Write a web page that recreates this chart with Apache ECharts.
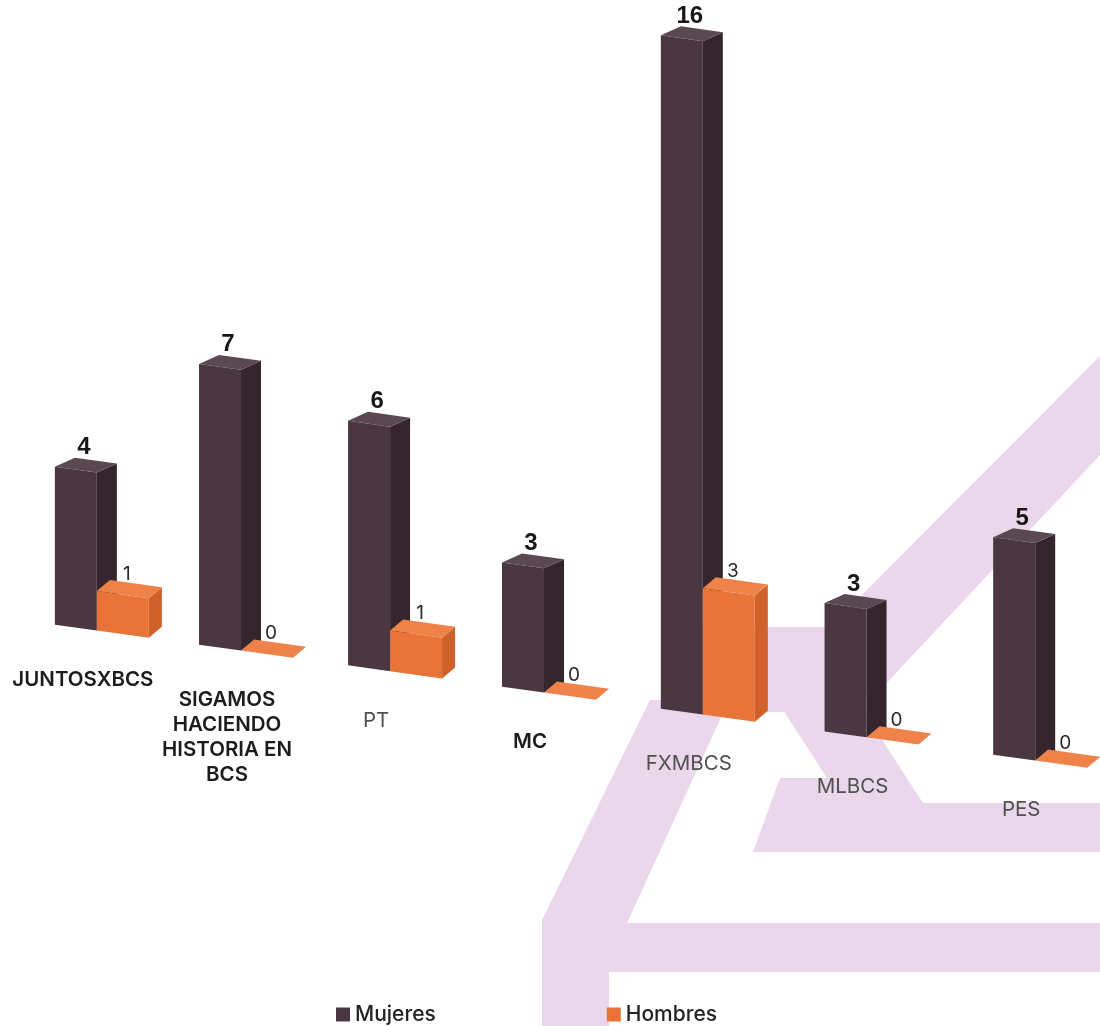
<!DOCTYPE html>
<html>
<head>
<meta charset="utf-8">
<script src="https://cdn.jsdelivr.net/npm/echarts/dist/echarts.min.js"></script>
<style>
html,body{margin:0;padding:0;background:#ffffff;}
#chart{width:1100px;height:1026px;}
</style>
</head>
<body>
<div id="chart"></div>
<script>
// ---- data ----
const categories = ['JUNTOSXBCS', 'SIGAMOS\nHACIENDO\nHISTORIA EN\nBCS', 'PT', 'MC', 'FXMBCS', 'MLBCS', 'PES'];
const mujeres = [4, 7, 6, 3, 16, 3, 5];
const hombres = [1, 0, 1, 0, 3, 0, 0];
const seriesNames = ['Mujeres', 'Hombres'];

// ---- styling (perspective look of the original 3D chart) ----
const SLOPE = 0.1386;     // floor tilt
const TILT_X0 = 28;
const PX0 = 106;          // first group centre (perspective origin)
const SPREAD = 1.218e-4;  // horizontal perspective spread
const UNIT = 41;          // axis px per unit (yAxis below)
const strongLabel = [true, true, false, true, false, false, false];
const PAL = {
  m: {front: '#4a3742', side: '#35262e', top: '#5c4853'},
  h: {front: '#e8743a', side: '#d0612b', top: '#ee8248'}
};
const BG = '#ead7eb';

function tilt(x, y) { return [x, y + SLOPE * (x - TILT_X0)]; }
function spread(c) { const d = c - PX0; return PX0 + d * (1 + SPREAD * d); }

function makeBox(kind) {
  return function (params, api) {
    const i = api.value(0), v = api.value(1);
    const base = api.coord([i, 0]);
    const topA = api.coord([i, v]);
    const c = spread(base[0]);
    const k = (39.5 + 4 * (c - PX0) / 938) / UNIT;   // heights grow toward the back-right
    const yTop = base[1] - (base[1] - topA[1]) * k;
    let x0, x1, d, pal;
    if (kind === 0) { x0 = c - 51; x1 = c - 9; d = [20, -9]; pal = PAL.m; }
    else { x0 = c - 9; x1 = c + 43; d = [13, -11]; pal = PAL.h; }
    const fbl = tilt(x0, base[1]), fbr = tilt(x1, base[1]);
    const ftl = tilt(x0, yTop), ftr = tilt(x1, yTop);
    const add = (p) => [p[0] + d[0], p[1] + d[1]];
    const btl = add(ftl), btr = add(ftr), bbr = add(fbr);
    const children = [
      {type: 'polygon', shape: {points: [fbr, ftr, btr, bbr]}, style: {fill: pal.side}},
      {type: 'polygon', shape: {points: [ftl, ftr, btr, btl]}, style: {fill: pal.top}},
      {type: 'polygon', shape: {points: [fbl, fbr, ftr, ftl]}, style: {fill: pal.front}}
    ];
    const cx = (x0 + x1) / 2;
    if (kind === 0) {
      children.push({type: 'text', z2: 10, style: {
        text: String(v), x: cx + 8, y: tilt(cx, yTop)[1] - 10,
        align: 'center', verticalAlign: 'bottom',
        fontFamily: 'Liberation Sans', fontWeight: 'bold', fontSize: 24, fill: '#1b1719'
      }});
      const lx = c - 23;
      const ly = tilt(lx, base[1])[1] + 39;
      const strong = strongLabel[i];
      children.push({type: 'text', z2: 10, style: {
        text: categories[i], x: lx, y: ly, align: 'center', verticalAlign: 'top',
        lineHeight: 25, fontFamily: 'Inter', fontSize: 20.5,
        fontWeight: strong ? 600 : 400, fill: strong ? '#1c1c1c' : '#505050'
      }});
    } else {
      children.push({type: 'text', z2: 10, style: {
        text: String(v), x: cx + 4, y: tilt(cx, yTop)[1] - 11,
        align: 'center', verticalAlign: 'bottom',
        fontFamily: 'Inter', fontSize: 19, fill: '#2a2a2a'
      }});
    }
    return {type: 'group', children: children};
  };
}

const chart = echarts.init(document.getElementById('chart'));
chart.setOption({
  backgroundColor: '#ffffff',
  animation: false,
  graphic: [
    {type: 'polygon', z: -10, silent: true, shape: {points: [[668,627],[830,627],[1100,356],[1100,455],[880,690],[790,712],[668,712]]}, style: {fill: BG}},
    {type: 'polygon', z: -10, silent: true, shape: {points: [[650,700],[729,700],[627,923],[609,923],[609,1026],[542,1026],[542,920]]}, style: {fill: BG}},
    {type: 'polygon', z: -10, silent: true, shape: {points: [[609,923],[1100,923],[1100,972],[609,972]]}, style: {fill: BG}},
    {type: 'polygon', z: -10, silent: true, shape: {points: [[760,632],[812,632],[923,803],[1100,803],[1100,852],[753,852],[780,778],[827,778],[783,710],[760,710]]}, style: {fill: BG}}
  ],
  legend: {
    data: seriesNames,
    left: 331, top: 999,
    itemWidth: 14, itemHeight: 14, itemGap: 171,
    icon: 'rect',
    textStyle: {fontFamily: 'Inter', fontSize: 21, fontWeight: 500, color: '#222'}
  },
  grid: {left: 35, width: 992, top: 6, height: 615},
  xAxis: {type: 'category', data: categories, show: false},
  yAxis: {type: 'value', min: 0, max: 15, show: false},
  series: [
    {name: seriesNames[0], type: 'custom', renderItem: makeBox(0), itemStyle: {color: PAL.m.front},
     data: mujeres.map((v, i) => [i, v]), encode: {x: 0, y: 1}},
    {name: seriesNames[1], type: 'custom', renderItem: makeBox(1), itemStyle: {color: PAL.h.front},
     data: hombres.map((v, i) => [i, v]), encode: {x: 0, y: 1}}
  ]
});
</script>
</body>
</html>
